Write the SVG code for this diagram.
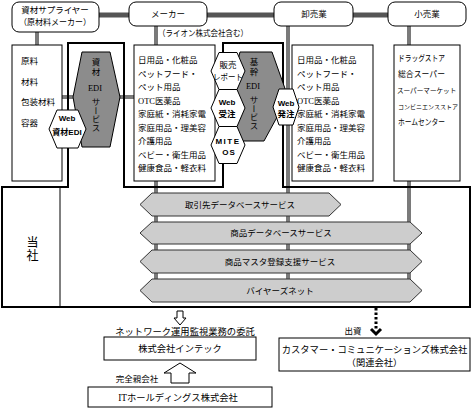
<svg xmlns="http://www.w3.org/2000/svg" width="472" height="408" viewBox="0 0 472 408">
<style>
.t{font-family:"Liberation Serif","Noto Sans CJK JP",serif;font-size:8.5px;fill:#000}
.s{font-family:"Liberation Serif","Noto Sans CJK JP",serif;font-size:9.3px;fill:#000}
.b{font-family:"Liberation Sans","Noto Sans CJK JP",sans-serif;font-weight:bold;font-size:8px;fill:#000}
.m{text-anchor:middle}
.v{writing-mode:vertical-rl;text-anchor:middle}
.box{fill:#fff;stroke:#000;stroke-width:1}
.hw{fill:#fff;stroke:#000;stroke-width:1}
.hd{fill:#8c8c8c;stroke:#000;stroke-width:1}
.bar{fill:#cdcdcd;stroke:#333;stroke-width:1}
.gl{stroke:#7a7a7a;stroke-width:4;fill:none}
.hl{stroke:#555;stroke-width:5;fill:none}
.oa{fill:#fff;stroke:#000;stroke-width:1}
</style>
<g id="connectors">
  <line class="hl" x1="99" y1="15" x2="388" y2="15"/>
  <line class="gl" x1="37" y1="31" x2="37" y2="45"/>
  <line class="gl" x1="156" y1="26" x2="156" y2="300"/>
  <line class="gl" x1="288" y1="26" x2="288" y2="300"/>
  <line class="gl" x1="409" y1="26" x2="409" y2="300"/>
  <line class="gl" x1="62" y1="97" x2="75" y2="97"/>
  <line class="gl" x1="119" y1="97" x2="134" y2="97"/>
  <path class="oa" d="M177,311 H183 V318 H186 L180,325 L174,318 H177 Z"/>
  <path class="oa" d="M180,363 L196,373 H189 V383 H171 V373 H164 Z"/>
  <line x1="376" y1="308" x2="376" y2="330" stroke="#000" stroke-width="3" stroke-dasharray="2.5,2"/>
  <polyline points="371,329 376,334 381,329" fill="none" stroke="#000" stroke-width="3"/>
</g>
<g id="tousha">
  <path d="M2,187 H68 V43 H124 V187 H223 V43 H283 V187 H470 V307 H2 Z" fill="none" stroke="#000" stroke-width="2"/>
  <line x1="60" y1="187" x2="60" y2="307" stroke="#000" stroke-width="1"/>
  <text class="v" x="31" y="249" style="font-family:'Liberation Serif','Noto Sans CJK JP',serif;font-size:12px;letter-spacing:1px">当社</text>
</g>
<g id="supplier">
  <rect class="box" x="12" y="2" width="87" height="30" rx="7"/>
  <text class="t m" x="55" y="13">資材サプライヤー</text>
  <text class="t m" x="55" y="24.5" textLength="72" lengthAdjust="spacingAndGlyphs">（原材料メーカー）</text>
</g>
<g id="maker">
  <rect class="box" x="129" y="2" width="78" height="24" rx="7"/>
  <text class="t m" x="168" y="17">メーカー</text>
  <text class="t" x="158" y="36" textLength="90" lengthAdjust="spacingAndGlyphs">（ライオン株式会社含む）</text>
</g>
<g id="wholesale">
  <rect class="box" x="274" y="2" width="79" height="24" rx="7"/>
  <text class="t m" x="314" y="17">卸売業</text>
</g>
<g id="retail">
  <rect class="box" x="388" y="2" width="78" height="24" rx="7"/>
  <text class="t m" x="427" y="17">小売業</text>
</g>
<g id="supplier-list">
  <rect class="box" x="12" y="45" width="50" height="136"/>
  <text class="t" x="21" y="64">原料</text>
  <text class="t" x="21" y="85">材料</text>
  <text class="t" x="21" y="105">包装材料</text>
  <text class="t" x="21" y="126">容器</text>
</g>
<g id="maker-list">
  <rect class="box" x="134" y="45" width="81" height="136"/>
  <text class="t" x="138" y="63">日用品・化粧品</text>
  <text class="t" x="138" y="76.5">ペットフード・</text>
  <text class="t" x="138" y="90">ペット用品</text>
  <text class="t" x="138" y="103.5">OTC医薬品</text>
  <text class="t" x="138" y="117">家庭紙・消耗家電</text>
  <text class="t" x="138" y="130.5">家庭用品・理美容</text>
  <text class="t" x="138" y="144">介護用品</text>
  <text class="t" x="138" y="157.5">ベビー・衛生用品</text>
  <text class="t" x="138" y="171">健康食品・軽衣料</text>
</g>
<g id="wholesale-list">
  <rect class="box" x="292" y="45" width="81" height="136"/>
  <text class="t" x="297" y="63">日用品・化粧品</text>
  <text class="t" x="297" y="76.5">ペットフード・</text>
  <text class="t" x="297" y="90">ペット用品</text>
  <text class="t" x="297" y="103.5">OTC医薬品</text>
  <text class="t" x="297" y="117">家庭紙・消耗家電</text>
  <text class="t" x="297" y="130.5">家庭用品・理美容</text>
  <text class="t" x="297" y="144">介護用品</text>
  <text class="t" x="297" y="157.5">ベビー・衛生用品</text>
  <text class="t" x="297" y="171">健康食品・軽衣料</text>
</g>
<g id="retail-list">
  <rect class="box" x="394" y="45" width="66" height="136"/>
  <text class="t" x="398" y="61" textLength="47" lengthAdjust="spacingAndGlyphs">ドラッグストア</text>
  <text class="t" x="398" y="77" textLength="47" lengthAdjust="spacingAndGlyphs">総合スーパー</text>
  <text class="t" x="397" y="92.5" style="font-size:6.6px">スーパーマーケット</text>
  <text class="t" x="398" y="109" style="font-size:6px">コンビニエンスストア</text>
  <text class="t" x="398" y="125" textLength="47" lengthAdjust="spacingAndGlyphs">ホームセンター</text>
</g>
<g id="shizai-edi">
  <polygon class="hd" points="82,52 110,52 120,97 110,147 82,147 73,97"/>
  <text class="t v" x="95" y="68" style="letter-spacing:1.5px">資材</text>
  <text class="t m" x="95" y="91">EDI</text>
  <text class="t v" x="95" y="115">サービス</text>
</g>
<g id="web-shizai-edi">
  <polygon class="hw" points="49,129 57,110 78,110 86,129 78,148 57,148"/>
  <text class="b m" x="67" y="121">Web</text>
  <text class="b m" x="67" y="135">資材EDI</text>
</g>
<g id="kikan-edi">
  <polygon class="hd" points="240,52 272,52 288,97 264,141 240,141 228,97"/>
  <text class="t v" x="253" y="68" style="letter-spacing:1.5px">基幹</text>
  <text class="t m" x="253" y="89">EDI</text>
  <text class="t v" x="253" y="113">サービス</text>
</g>
<g id="hanbai-report">
  <polygon class="hw" points="211,71 219,52.5 237,52.5 245,71 237,89.5 219,89.5"/>
  <text class="t m" x="228" y="68">販売</text>
  <text class="t m" x="228" y="80" textLength="30" lengthAdjust="spacingAndGlyphs">レポート</text>
</g>
<g id="web-juchu">
  <polygon class="hw" points="211,108 219,89.5 237,89.5 245,108 237,126.5 219,126.5"/>
  <text class="b m" x="227" y="105">Web</text>
  <text class="b m" x="227" y="116.5" style="font-size:8.5px">受注</text>
</g>
<g id="miteos">
  <polygon class="hw" points="211,145 219,126.5 237,126.5 245,145 237,163.5 219,163.5"/>
  <text class="b m" x="228" y="143.5" style="letter-spacing:1.5px">MITE</text>
  <text class="b m" x="229" y="154.5" style="letter-spacing:1px">OS</text>
</g>
<g id="web-hatchu">
  <polygon class="hw" points="273,107 279,89 293,89 299,107 293,125 279,125"/>
  <text class="b m" x="286" y="106">Web</text>
  <text class="b m" x="286" y="117" style="font-size:8.5px">発注</text>
</g>
<g id="torihikisaki-db">
  <polygon class="bar" points="140,204.5 152,193 329,193 341,204.5 329,216 152,216"/>
  <text class="t m" x="240" y="207.5">取引先データベースサービス</text>
</g>
<g id="shohin-db">
  <polygon class="bar" points="140,233 152,222 410,222 422,233 410,244 152,244"/>
  <text class="t m" x="281" y="236">商品データベースサービス</text>
</g>
<g id="shohin-master">
  <polygon class="bar" points="140,261.5 152,250 410,250 422,261.5 410,273 152,273"/>
  <text class="t m" x="280" y="264.5">商品マスタ登録支援サービス</text>
</g>
<g id="buyers-net">
  <polygon class="bar" points="140,290.5 152,279 410,279 422,290.5 410,302 152,302"/>
  <text class="t m" x="280" y="293.5">バイヤーズネット</text>
</g>
<g id="labels">
  <text class="s m" x="185" y="335">ネットワーク運用監視業務の委託</text>
  <text class="t m" x="137" y="382">完全親会社</text>
  <text class="t m" x="353" y="334">出資</text>
</g>
<g id="intec">
  <rect class="box" x="104" y="337" width="152" height="23"/>
  <text class="s m" x="180" y="352">株式会社インテック</text>
</g>
<g id="it-holdings">
  <rect class="box" x="88" y="387" width="184" height="20"/>
  <text class="s m" x="178" y="400.5">ITホールディングス株式会社</text>
</g>
<g id="customer-comm">
  <rect class="box" x="279" y="338" width="191" height="33"/>
  <text class="s m" x="374.5" y="353">カスタマー・コミュニケーションズ株式会社</text>
  <text class="s m" x="374.5" y="365.5">（関連会社）</text>
</g>
</svg>
